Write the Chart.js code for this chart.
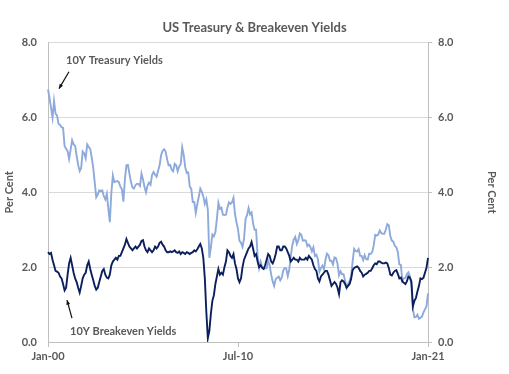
<!DOCTYPE html>
<html>
<head>
<meta charset="utf-8">
<title>US Treasury &amp; Breakeven Yields</title>
<script src="https://cdn.jsdelivr.net/npm/chart.js@4.4.1/dist/chart.umd.min.js"></script>
<style>
  html, body { margin:0; padding:0; background:#fff; }
  #wrap { position:relative; width:509px; height:374px; }
</style>
</head>
<body>
<div id="wrap"><canvas id="chartYields"></canvas></div>
<script>
// Monthly readings, Jan-00 .. Jan-21 (per cent)
const startYear = 2000;
const monthNames = ['Jan','Feb','Mar','Apr','May','Jun','Jul','Aug','Sep','Oct','Nov','Dec'];

const treasury10y = [
  6.75, 6.52, 6.26, 5.99, 6.44, 6.10, 6.05, 5.83, 5.80, 5.74, 5.72, 5.24,
  5.16, 5.10, 4.89, 5.14, 5.39, 5.28, 5.24, 4.97, 4.73, 4.57, 4.65, 5.09,
  5.04, 4.91, 5.28, 5.21, 5.16, 4.93, 4.65, 4.26, 3.87, 3.94, 4.05, 4.03,
  4.05, 3.90, 3.81, 3.96, 3.57, 3.20, 3.98, 4.45, 4.27, 4.29, 4.30, 4.27,
  4.15, 4.08, 3.75, 4.35, 4.72, 4.73, 4.50, 4.28, 4.13, 4.10, 4.19, 4.23,
  4.22, 4.17, 4.50, 4.34, 4.14, 4.00, 4.18, 4.26, 4.20, 4.46, 4.54, 4.47,
  4.42, 4.57, 4.72, 4.99, 5.11, 5.15, 5.09, 4.88, 4.72, 4.73, 4.60, 4.56,
  4.76, 4.72, 4.56, 4.69, 4.75, 5.20, 5.00, 4.67, 4.52, 4.53, 4.15, 4.10,
  3.74, 3.74, 3.45, 3.68, 3.88, 4.10, 4.01, 3.89, 3.69, 3.81, 3.53, 2.25,
  2.52, 2.87, 2.82, 2.93, 3.29, 3.72, 3.56, 3.59, 3.40, 3.39, 3.40, 3.59,
  3.73, 3.69, 3.73, 3.85, 3.42, 3.20, 3.01, 2.70, 2.65, 2.54, 2.76, 3.29,
  3.39, 3.58, 3.41, 3.46, 3.17, 3.00, 3.00, 2.30, 1.98, 2.15, 2.01, 1.98,
  1.97, 1.97, 2.17, 2.05, 1.80, 1.62, 1.50, 1.68, 1.72, 1.75, 1.65, 1.72,
  1.91, 1.98, 1.96, 1.76, 1.93, 2.30, 2.58, 2.74, 2.81, 2.62, 2.72, 2.90,
  2.86, 2.71, 2.72, 2.71, 2.56, 2.60, 2.54, 2.42, 2.53, 2.30, 2.33, 2.21,
  1.88, 1.98, 2.04, 1.94, 2.20, 2.36, 2.32, 2.17, 2.17, 2.07, 2.26, 2.24,
  2.09, 1.78, 1.89, 1.81, 1.81, 1.64, 1.45, 1.56, 1.63, 1.76, 2.14, 2.49,
  2.43, 2.42, 2.48, 2.30, 2.30, 2.19, 2.32, 2.21, 2.20, 2.36, 2.35, 2.40,
  2.58, 2.86, 2.84, 2.87, 2.98, 2.91, 2.89, 2.89, 3.00, 3.15, 3.12, 2.83,
  2.71, 2.68, 2.57, 2.53, 2.40, 2.07, 2.06, 1.63, 1.70, 1.71, 1.81, 1.86,
  1.76, 1.50, 0.87, 0.66, 0.67, 0.73, 0.62, 0.65, 0.68, 0.79, 0.87, 0.95,
  1.30
];

const breakeven10y = [
  2.40, 2.35, 2.38, 2.20, 2.05, 1.90, 1.88, 1.85, 1.75, 1.70, 1.55, 1.38,
  1.45, 1.80, 2.10, 2.25, 2.05, 1.85, 1.70, 1.60, 1.45, 1.32, 1.50, 1.70,
  1.80, 1.85, 2.05, 2.15, 1.95, 1.80, 1.65, 1.50, 1.40, 1.45, 1.60, 1.75,
  1.90, 1.95, 1.80, 1.72, 1.70, 1.80, 2.05, 2.15, 2.20, 2.25, 2.20, 2.30,
  2.30, 2.40, 2.50, 2.60, 2.75, 2.65, 2.55, 2.50, 2.45, 2.50, 2.55, 2.50,
  2.55, 2.60, 2.70, 2.72, 2.55, 2.45, 2.40, 2.50, 2.45, 2.40, 2.45, 2.55,
  2.50, 2.55, 2.65, 2.68, 2.60, 2.55, 2.45, 2.40, 2.40, 2.42, 2.40, 2.42,
  2.45, 2.40, 2.38, 2.42, 2.35, 2.40, 2.38, 2.35, 2.40, 2.38, 2.35, 2.38,
  2.40, 2.45, 2.42, 2.48, 2.55, 2.62, 2.50, 2.25, 1.70, 0.80, 0.10, 0.30,
  0.75, 1.10, 1.25, 1.55, 1.75, 1.95, 1.80, 1.85, 1.80, 2.00, 2.15, 2.45,
  2.40, 2.30, 2.25, 2.35, 2.10, 1.95, 1.70, 1.60, 1.70, 2.00, 2.20, 2.30,
  2.40, 2.50, 2.55, 2.67, 2.50, 2.30, 2.35, 2.15, 2.00, 2.05, 1.98, 1.95,
  2.05, 2.20, 2.35, 2.30, 2.15, 2.10, 2.20, 2.35, 2.55, 2.55, 2.45, 2.45,
  2.55, 2.55, 2.50, 2.40, 2.30, 2.15, 2.20, 2.25, 2.20, 2.20, 2.15, 2.25,
  2.20, 2.20, 2.20, 2.25, 2.20, 2.30, 2.25, 2.20, 2.05, 1.95, 1.90, 1.70,
  1.62, 1.75, 1.80, 1.85, 1.90, 1.90, 1.80, 1.65, 1.50, 1.55, 1.60, 1.55,
  1.45, 1.28, 1.60, 1.65, 1.62, 1.55, 1.45, 1.50, 1.55, 1.68, 1.92, 1.98,
  2.00, 2.02, 1.98, 1.90, 1.85, 1.75, 1.80, 1.82, 1.85, 1.90, 1.90, 1.97,
  2.05, 2.10, 2.08, 2.15, 2.15, 2.12, 2.10, 2.10, 2.12, 2.10, 1.98, 1.80,
  1.78, 1.85, 1.90, 1.92, 1.82, 1.70, 1.72, 1.62, 1.58, 1.55, 1.62, 1.75,
  1.72, 1.62, 0.95, 1.10, 1.18, 1.35, 1.50, 1.70, 1.68, 1.72, 1.85, 1.98,
  2.25
];

const xTickLabels = ['Jan-00', 'Jul-10', 'Jan-21'];
const yMin = 0, yMax = 8, yStep = 2;

const labels = treasury10y.map((_, i) =>
  monthNames[i % 12] + '-' + String(startYear + Math.floor(i / 12)).slice(2));

(function(){
  const grey = '#595959';
  const axisGrey = '#bfbfbf';
  const gridGrey = '#d9d9d9';
  const font = { family: 'Lato', weight: 'bold', size: 11 };

  // callouts: text anchored in data units, arrow tail -> head
  const notes = [
    { text: '10Y Treasury Yields', at: [12, 7.52], arrow: [[13.9, 7.22], [7.3, 6.77]] },
    { text: '10Y Breakeven Yields', at: [14.6, 0.29], arrow: [[15.9, 0.64], [12.6, 1.12]] }
  ];

  const callouts = {
    id: 'callouts',
    afterDraw(chart){
      const {ctx, scales: {x, y}} = chart;
      const px = (p)=> [x.getPixelForValue(p[0]), y.getPixelForValue(p[1])];
      ctx.save();
      ctx.font = 'bold 11px Lato';
      ctx.textBaseline = 'middle';
      notes.forEach(n=>{
        const [tx, ty] = px(n.at);
        ctx.fillStyle = grey;
        ctx.fillText(n.text, tx, ty);
        const [ax, ay] = px(n.arrow[0]);
        const [bx, by] = px(n.arrow[1]);
        ctx.strokeStyle = '#111';
        ctx.fillStyle = '#111';
        ctx.lineWidth = 1.2;
        ctx.beginPath(); ctx.moveTo(ax, ay); ctx.lineTo(bx, by); ctx.stroke();
        const a = Math.atan2(by - ay, bx - ax), h = 5;
        ctx.beginPath();
        ctx.moveTo(bx, by);
        ctx.lineTo(bx - h*Math.cos(a - 0.4), by - h*Math.sin(a - 0.4));
        ctx.lineTo(bx - h*Math.cos(a + 0.4), by - h*Math.sin(a + 0.4));
        ctx.closePath(); ctx.fill();
      });
      ctx.restore();
    }
  };

  const tickIdx = xTickLabels.map(l => labels.indexOf(l));
  const fmt = v => Number(v).toFixed(1);

  new Chart(document.getElementById('chartYields'), {
    type: 'line',
    data: {
      labels,
      datasets: [
        { label: '10Y Breakeven Yields', data: breakeven10y, borderColor: '#0b1f5c', borderWidth: 1.9, pointRadius: 0, tension: 0 },
        { label: '10Y Treasury Yields', data: treasury10y, borderColor: '#8eaadb', borderWidth: 1.9, pointRadius: 0, tension: 0 }
      ]
    },
    options: {
      responsive: true,
      maintainAspectRatio: false,
      animation: false,
      layout: { padding: 0 },
      plugins: {
        legend: { display: false },
        tooltip: { enabled: false },
        title: {
          display: true,
          text: 'US Treasury & Breakeven Yields',
          color: grey,
          font: { family: 'Lato', weight: 'bold', size: 13 },
          padding: { top: 20, bottom: 7 }
        }
      },
      scales: {
        x: {
          type: 'category',
          offset: false,
          afterBuildTicks: s => { s.ticks = tickIdx.map(v => ({ value: v })); },
          afterFit: s => { s.height = 32; },
          ticks: { autoSkip: false, maxRotation: 0, color: grey, font, padding: 3 },
          grid: { drawOnChartArea: false, color: axisGrey, tickLength: 5 },
          border: { color: axisGrey }
        },
        y: {
          position: 'left',
          min: yMin, max: yMax,
          afterFit: s => { s.width = 48; },
          ticks: { stepSize: yStep, callback: fmt, color: grey, font, padding: 11 },
          grid: { color: gridGrey, drawTicks: false },
          border: { color: axisGrey },
          title: { display: true, text: 'Per Cent', color: grey, font, padding: { top: 3, bottom: 0 } }
        },
        y2: {
          position: 'right',
          min: yMin, max: yMax,
          afterFit: s => { s.width = 81; },
          ticks: { stepSize: yStep, callback: fmt, color: grey, font, padding: 6 },
          grid: { drawOnChartArea: false, color: axisGrey, tickLength: 4 },
          border: { color: axisGrey },
          title: { display: true, text: 'Per Cent', color: grey, font, padding: { top: 11, bottom: 0 } }
        }
      }
    },
    plugins: [callouts]
  });
})();
</script>
</body>
</html>
